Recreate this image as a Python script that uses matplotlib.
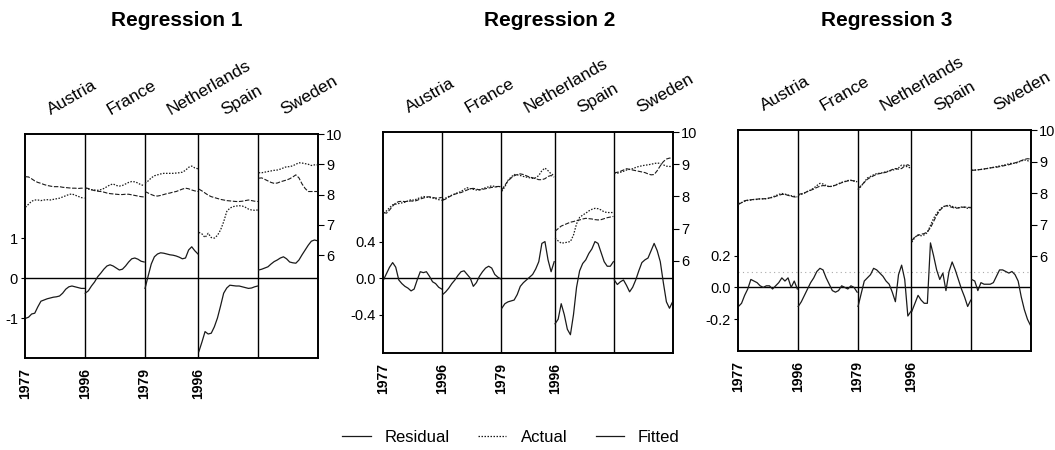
import numpy as np
import matplotlib
matplotlib.use("Agg")
import matplotlib.pyplot as plt
from matplotlib.lines import Line2D

plt.rcParams['font.family'] = ['Liberation Sans', 'DejaVu Sans']

# ---------------- data ----------------
COUNTRIES = ["Austria", "France", "Netherlands", "Spain", "Sweden"]
SEG_LEN = [20, 20, 18, 20, 20]
YEAR_TICK_POS = [0, 20, 40, 58]
YEAR_LABELS = ["1977", "1996", "1979", "1996"]
TITLES = ["Regression 1", "Regression 2", "Regression 3"]

R1_ACTUAL = [
    [7.58, 7.68, 7.78, 7.82, 7.82, 7.80, 7.82, 7.83, 7.82, 7.84, 7.86, 7.88, 7.92, 7.96, 8.00, 8.02, 7.98, 7.94, 7.90, 7.88],
    [8.21, 8.18, 8.16, 8.15, 8.14, 8.16, 8.20, 8.26, 8.32, 8.35, 8.30, 8.28, 8.30, 8.35, 8.40, 8.43, 8.42, 8.38, 8.32, 8.30],
    [8.37, 8.45, 8.55, 8.62, 8.65, 8.68, 8.70, 8.70, 8.70, 8.70, 8.71, 8.72, 8.74, 8.80, 8.90, 8.94, 8.88, 8.85],
    [6.75, 6.70, 6.58, 6.72, 6.58, 6.56, 6.65, 6.83, 7.10, 7.44, 7.55, 7.60, 7.62, 7.63, 7.62, 7.58, 7.52, 7.49, 7.48, 7.49],
    [8.72, 8.72, 8.74, 8.76, 8.78, 8.80, 8.81, 8.84, 8.88, 8.92, 8.92, 8.95, 9.00, 9.05, 9.04, 9.02, 9.00, 8.96, 8.98, 8.98],
]
R1_FITTED = [
    [8.59, 8.58, 8.52, 8.45, 8.40, 8.37, 8.33, 8.30, 8.28, 8.26, 8.26, 8.26, 8.24, 8.23, 8.22, 8.21, 8.21, 8.20, 8.21, 8.21],
    [8.22, 8.20, 8.16, 8.13, 8.11, 8.10, 8.08, 8.05, 8.03, 8.02, 8.01, 8.00, 8.00, 8.01, 8.01, 7.99, 7.97, 7.95, 7.93, 7.92],
    [8.10, 8.05, 8.00, 7.96, 7.95, 7.97, 8.00, 8.03, 8.05, 8.08, 8.10, 8.14, 8.18, 8.21, 8.19, 8.15, 8.12, 8.10],
    [8.18, 8.12, 8.05, 7.98, 7.93, 7.90, 7.87, 7.84, 7.82, 7.80, 7.79, 7.78, 7.77, 7.77, 7.78, 7.80, 7.82, 7.80, 7.78, 7.77],
    [8.54, 8.55, 8.50, 8.45, 8.40, 8.37, 8.38, 8.42, 8.45, 8.48, 8.52, 8.58, 8.65, 8.55, 8.35, 8.20, 8.10, 8.10, 8.10, 8.10],
]
R1_RESID = [
    [-1.01, -0.98, -0.90, -0.88, -0.72, -0.58, -0.55, -0.52, -0.50, -0.48, -0.47, -0.45, -0.38, -0.28, -0.22, -0.20, -0.22, -0.24, -0.26, -0.26],
    [-0.38, -0.32, -0.20, -0.10, 0.03, 0.12, 0.22, 0.30, 0.33, 0.30, 0.25, 0.20, 0.22, 0.30, 0.40, 0.48, 0.50, 0.47, 0.42, 0.40],
    [-0.26, 0.05, 0.35, 0.53, 0.60, 0.63, 0.62, 0.60, 0.58, 0.57, 0.55, 0.52, 0.48, 0.50, 0.70, 0.78, 0.68, 0.60],
    [-1.84, -1.60, -1.34, -1.40, -1.38, -1.22, -1.00, -0.70, -0.38, -0.25, -0.18, -0.19, -0.20, -0.20, -0.22, -0.24, -0.26, -0.25, -0.22, -0.20],
    [0.20, 0.22, 0.25, 0.28, 0.35, 0.41, 0.45, 0.50, 0.53, 0.48, 0.40, 0.38, 0.37, 0.45, 0.58, 0.70, 0.82, 0.92, 0.95, 0.93],
]

R2_ACTUAL = [
    [7.48, 7.55, 7.65, 7.74, 7.76, 7.78, 7.80, 7.82, 7.86, 7.90, 7.88, 7.93, 7.96, 8.00, 7.98, 7.97, 7.95, 7.93, 7.90, 7.88],
    [7.90, 7.95, 8.00, 8.04, 8.08, 8.12, 8.15, 8.22, 8.27, 8.24, 8.22, 8.20, 8.21, 8.24, 8.27, 8.30, 8.33, 8.31, 8.30, 8.31],
    [8.16, 8.30, 8.50, 8.60, 8.68, 8.67, 8.65, 8.62, 8.60, 8.58, 8.56, 8.58, 8.65, 8.80, 8.88, 8.80, 8.70, 8.65],
    [6.70, 6.62, 6.55, 6.56, 6.58, 6.60, 6.80, 7.15, 7.35, 7.42, 7.48, 7.55, 7.60, 7.63, 7.62, 7.58, 7.52, 7.50, 7.50, 7.50],
    [8.73, 8.72, 8.75, 8.78, 8.82, 8.84, 8.86, 8.90, 8.93, 8.95, 8.97, 8.98, 9.00, 9.02, 9.04, 9.02, 8.98, 8.94, 8.93, 8.93],
]
R2_FITTED = [
    [7.50, 7.48, 7.58, 7.70, 7.80, 7.84, 7.85, 7.84, 7.85, 7.86, 7.85, 7.88, 7.92, 7.95, 7.98, 7.99, 7.97, 7.95, 7.95, 7.97],
    [7.88, 7.92, 7.98, 8.03, 8.07, 8.10, 8.12, 8.16, 8.20, 8.24, 8.25, 8.23, 8.20, 8.22, 8.24, 8.26, 8.28, 8.29, 8.31, 8.31],
    [8.20, 8.35, 8.48, 8.57, 8.64, 8.68, 8.70, 8.68, 8.64, 8.60, 8.58, 8.55, 8.52, 8.52, 8.55, 8.62, 8.65, 8.60],
    [6.92, 7.00, 7.08, 7.12, 7.16, 7.20, 7.22, 7.25, 7.27, 7.30, 7.32, 7.31, 7.30, 7.28, 7.27, 7.28, 7.31, 7.34, 7.36, 7.38],
    [8.73, 8.75, 8.78, 8.82, 8.86, 8.84, 8.82, 8.80, 8.78, 8.76, 8.74, 8.70, 8.67, 8.68, 8.80, 8.95, 9.08, 9.16, 9.19, 9.19],
]
R2_RESID = [
    [-0.02, 0.05, 0.12, 0.17, 0.12, -0.02, -0.06, -0.09, -0.11, -0.14, -0.12, -0.02, 0.07, 0.06, 0.07, 0.02, -0.04, -0.06, -0.10, -0.12],
    [-0.18, -0.15, -0.11, -0.06, -0.02, 0.03, 0.07, 0.08, 0.04, 0.00, -0.09, -0.05, 0.02, 0.07, 0.11, 0.13, 0.11, 0.04, 0.01, -0.01],
    [-0.33, -0.28, -0.26, -0.25, -0.24, -0.18, -0.09, -0.05, -0.02, 0.01, 0.04, 0.10, 0.18, 0.38, 0.40, 0.20, 0.07, 0.18],
    [-0.50, -0.45, -0.28, -0.40, -0.56, -0.62, -0.40, -0.10, 0.08, 0.16, 0.20, 0.27, 0.32, 0.40, 0.38, 0.28, 0.18, 0.13, 0.13, 0.18],
    [-0.02, -0.07, -0.04, -0.02, -0.08, -0.15, -0.10, -0.02, 0.08, 0.17, 0.20, 0.22, 0.30, 0.38, 0.30, 0.18, -0.05, -0.26, -0.33, -0.26],
]

R3_ACTUAL = [
    [7.67, 7.70, 7.74, 7.77, 7.78, 7.80, 7.80, 7.82, 7.82, 7.82, 7.84, 7.88, 7.92, 7.96, 7.99, 7.97, 7.94, 7.92, 7.90, 7.88],
    [7.94, 7.96, 8.00, 8.06, 8.10, 8.16, 8.24, 8.31, 8.29, 8.24, 8.20, 8.22, 8.26, 8.30, 8.34, 8.37, 8.40, 8.41, 8.38, 8.36],
    [8.10, 8.22, 8.35, 8.48, 8.53, 8.58, 8.62, 8.63, 8.65, 8.68, 8.70, 8.73, 8.75, 8.80, 8.89, 8.88, 8.82, 8.80],
    [6.45, 6.60, 6.68, 6.65, 6.68, 6.75, 6.98, 7.20, 7.36, 7.48, 7.57, 7.60, 7.62, 7.58, 7.55, 7.54, 7.56, 7.55, 7.52, 7.54],
    [8.73, 8.73, 8.74, 8.75, 8.76, 8.78, 8.80, 8.82, 8.84, 8.86, 8.88, 8.90, 8.93, 8.95, 8.94, 8.98, 9.02, 9.05, 9.03, 8.99],
]
R3_FITTED = [
    [7.64, 7.70, 7.76, 7.78, 7.79, 7.80, 7.81, 7.82, 7.82, 7.83, 7.85, 7.86, 7.90, 7.93, 7.96, 7.96, 7.93, 7.90, 7.88, 7.87],
    [7.96, 7.98, 8.01, 8.05, 8.09, 8.13, 8.18, 8.22, 8.24, 8.23, 8.21, 8.22, 8.25, 8.29, 8.33, 8.36, 8.39, 8.40, 8.39, 8.37],
    [8.14, 8.24, 8.34, 8.44, 8.50, 8.55, 8.60, 8.62, 8.64, 8.66, 8.70, 8.75, 8.78, 8.76, 8.78, 8.86, 8.90, 8.84],
    [6.50, 6.62, 6.66, 6.70, 6.72, 6.78, 6.90, 7.10, 7.30, 7.45, 7.55, 7.60, 7.58, 7.55, 7.52, 7.53, 7.55, 7.56, 7.55, 7.55],
    [8.72, 8.73, 8.74, 8.75, 8.77, 8.78, 8.80, 8.81, 8.82, 8.84, 8.86, 8.88, 8.90, 8.93, 8.96, 8.99, 9.03, 9.07, 9.09, 9.08],
]
R3_RESID = [
    [-0.12, -0.10, -0.05, -0.01, 0.05, 0.04, 0.03, 0.01, 0.00, 0.01, 0.01, -0.01, 0.01, 0.03, 0.06, 0.04, 0.06, 0.00, 0.04, -0.01],
    [-0.12, -0.09, -0.05, -0.01, 0.03, 0.06, 0.10, 0.12, 0.11, 0.06, 0.02, -0.02, -0.03, -0.02, 0.01, 0.00, -0.01, 0.01, 0.00, -0.03],
    [-0.12, -0.04, 0.04, 0.06, 0.08, 0.12, 0.11, 0.09, 0.07, 0.04, 0.02, -0.03, -0.09, 0.08, 0.14, 0.05, -0.18, -0.15],
    [-0.15, -0.10, -0.05, -0.08, -0.10, -0.10, 0.28, 0.20, 0.11, 0.05, 0.09, -0.02, 0.10, 0.16, 0.11, 0.05, -0.01, -0.06, -0.12, -0.08],
    [0.05, 0.04, -0.02, 0.03, 0.02, 0.02, 0.02, 0.03, 0.07, 0.11, 0.11, 0.10, 0.09, 0.10, 0.08, 0.04, -0.06, -0.14, -0.20, -0.24],
]

RESID_TICKS = [[-1, 0, 1], [-0.4, 0.0, 0.4], [-0.2, 0.0, 0.2]]
RESID_TICKLABELS = [["-1", "0", "1"], ["-0.4", "0.0", "0.4"], ["-0.2", "0.0", "0.2"]]
LEVEL_TICKS = [6, 7, 8, 9, 10]

# ---------------- layout ----------------
W, H = 1055, 450
fig = plt.figure(figsize=(W / 100, H / 100), dpi=100)

def frac_box(l, r, t, b):
    return [l / W, (H - b) / H, (r - l) / W, (b - t) / H]

BOXES = [frac_box(25, 318, 134, 358), frac_box(383, 673, 132, 353), frac_box(738, 1031, 130, 351)]
RESID_LIM = [(-2.0, 3.6), (-0.82, 1.6), (-0.40, 0.99)]
LEVEL_LIM = [(2.6, 10.0), (3.14, 10.0), (3.0, 10.0)]
TITLE_X = [177, 550, 887]

C = "#1a1a1a"
data_sets = [(R1_RESID, R1_ACTUAL, R1_FITTED), (R2_RESID, R2_ACTUAL, R2_FITTED), (R3_RESID, R3_ACTUAL, R3_FITTED)]
starts = np.concatenate([[0], np.cumsum(SEG_LEN)[:-1]])
total = int(np.sum(SEG_LEN))

for p, (resid, actual, fitted) in enumerate(data_sets):
    ax = fig.add_axes(BOXES[p])
    ax2 = ax.twinx()
    for k, n in enumerate(SEG_LEN):
        s = starts[k]
        xs = np.linspace(s + 0.15, s + n - 0.15, n)
        ax.plot(xs, resid[k], color=C, lw=0.9, ls='-', zorder=3)
        ax2.plot(xs, actual[k], color=C, lw=0.9, ls=(0, (1.2, 1.2)), zorder=3)
        ax2.plot(xs, fitted[k], color=C, lw=0.8, ls=(0, (4, 1.5)), zorder=3)
        if k > 0:
            ax.axvline(s, color="black", lw=1.0, zorder=2)
        ax.annotate(COUNTRIES[k], xy=(s, 1.0), xycoords=('data', 'axes fraction'),
                    xytext=(26, 19), textcoords='offset pixels', rotation=30,
                    rotation_mode='anchor', ha='left', va='baseline', fontsize=12.5,
                    annotation_clip=False)
    ax.axhline(0, color="black", lw=1.0, zorder=2)
    if p == 2:
        ax.axhline(0.1, color="#aaaaaa", lw=0.8, ls=(0, (1, 3)), zorder=1)
    ax.set_xlim(0, total)
    ax.set_ylim(*RESID_LIM[p])
    ax2.set_ylim(*LEVEL_LIM[p])
    ax.set_yticks(RESID_TICKS[p])
    ax.set_yticklabels(RESID_TICKLABELS[p], fontsize=10.5)
    ax.tick_params(axis='y', direction='out', length=3, width=0.8, pad=2)
    ax2.set_yticks(LEVEL_TICKS)
    ax2.set_yticklabels([str(t) for t in LEVEL_TICKS], fontsize=10.5)
    ax2.tick_params(axis='y', direction='out', length=4, width=0.8, pad=2)
    ax.set_xticks(YEAR_TICK_POS)
    ax.set_xticklabels(YEAR_LABELS, rotation=90, fontsize=10, fontweight='bold')
    ax.tick_params(axis='x', length=0, pad=7)
    for a in (ax, ax2):
        for sp in a.spines.values():
            sp.set_linewidth(1.2)
            sp.set_color("black")
    fig.text(TITLE_X[p] / W, 1 - 20 / H, TITLES[p], ha='center', va='center',
             fontsize=15, fontweight='bold')

handles = [Line2D([], [], color=C, lw=0.9, ls='-'),
           Line2D([], [], color=C, lw=0.9, ls=(0, (1.2, 1.2))),
           Line2D([], [], color=C, lw=0.9, ls='-')]
fig.legend(handles, ["Residual", "Actual", "Fitted"], loc='center',
           bbox_to_anchor=(511 / W, 1 - 437 / H), ncol=3, frameon=False,
           fontsize=12, handlelength=1.7, handletextpad=0.85, columnspacing=1.7)

fig.savefig("out.png", dpi=100)
